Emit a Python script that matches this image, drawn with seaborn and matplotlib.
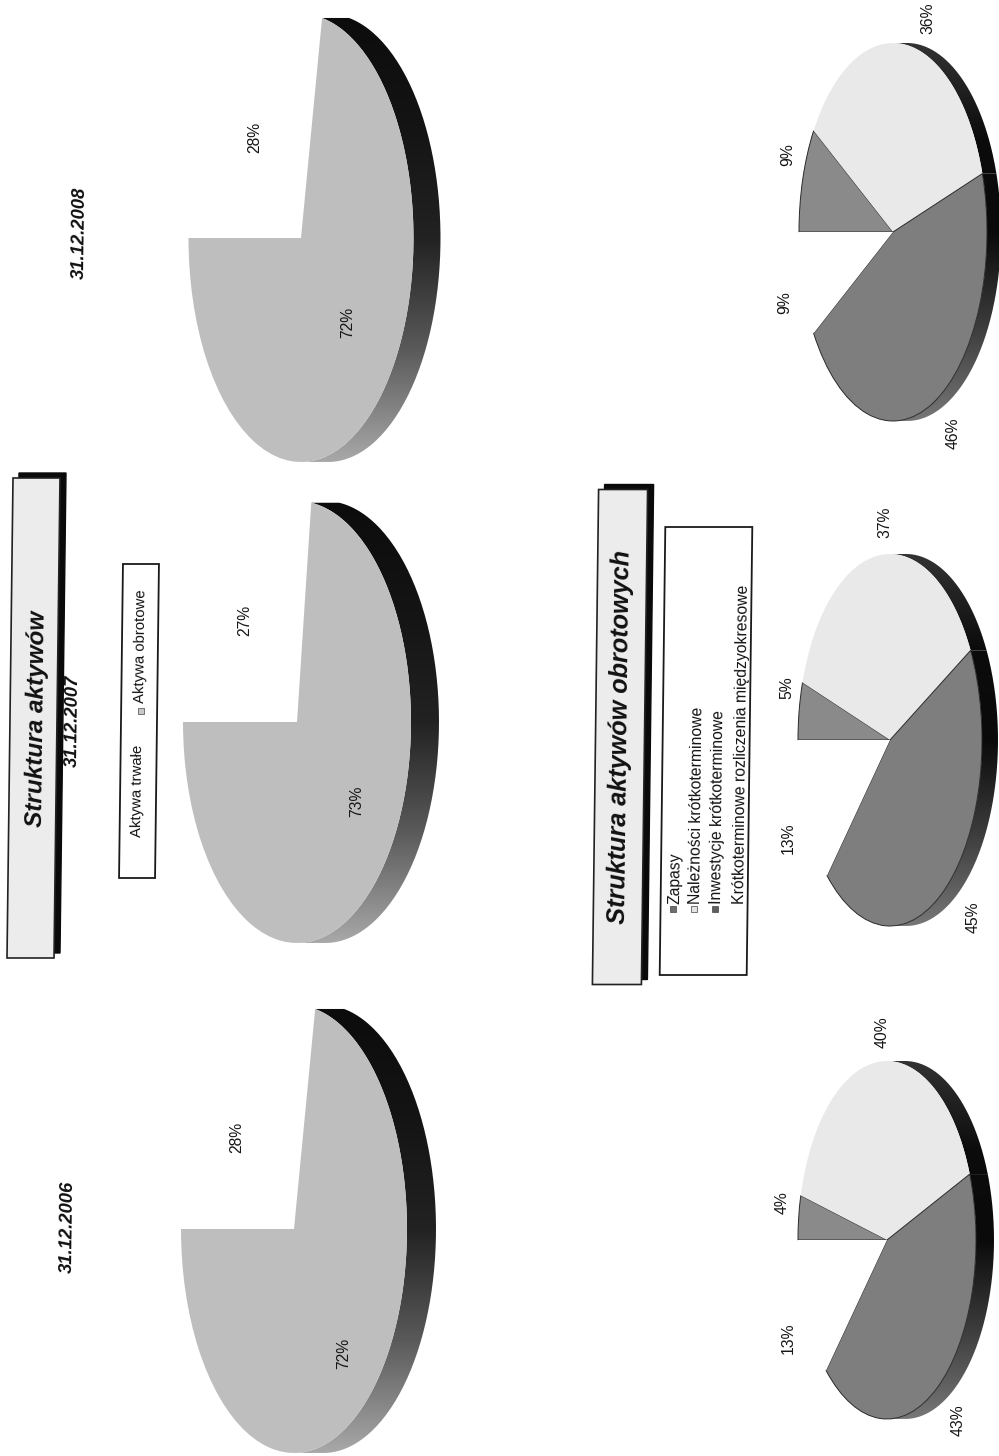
import numpy as np
import matplotlib
matplotlib.use("Agg")
import matplotlib.pyplot as plt
from matplotlib.patches import Polygon, PathPatch
from matplotlib.path import Path
import seaborn as sns

# Share of fixed and current assets at each balance date (percent)
asset_slices = ["Aktywa trwałe", "Aktywa obrotowe"]
assets_2006 = [28, 72]
assets_2007 = [27, 73]
assets_2008 = [28, 72]

# Structure of current assets at each balance date (percent)
current_slices = ["Zapasy", "Należności krótkoterminowe",
                  "Inwestycje krótkoterminowe",
                  "Krótkoterminowe rozliczenia międzyokresowe"]
current_2006 = [4, 40, 43, 13]
current_2007 = [5, 37, 45, 13]
current_2008 = [9, 36, 46, 9]

date_2006 = "31.12.2006"
date_2007 = "31.12.2007"
date_2008 = "31.12.2008"

W, H = 999, 1456
TILT = 0.0125  # page is slightly askew, boxes and headings follow it
FONT = "Liberation Sans"

sns.set_theme(style="white", rc={"font.family": FONT})
asset_colors = sns.color_palette(["#ffffff", "#bebebe"])
current_colors = sns.color_palette(["#8a8a8a", "#e9e9e9", "#7e7e7e", "#ffffff"])
wall_big = sns.blend_palette(["#0c0c0c", "#141414", "#222222", "#5a5a5a", "#a8a8a8"],
                             as_cmap=True)
wall_small = sns.blend_palette(["#333333", "#0c0c0c", "#0a0a0a", "#3c3c3c", "#777777"],
                               as_cmap=True)

fig = plt.figure(figsize=(W / 100, H / 100), dpi=100, facecolor="white")
page = fig.add_axes([0, 0, 1, 1], zorder=5)
page.set_xlim(0, W)
page.set_ylim(H, 0)
page.axis("off")
page.patch.set_alpha(0)


def draw_pie(values, colors, cx, cy, rx, ry, depth, wall_cmap, edged=()):
    """Extruded pie, first slice starting at the left and running clockwise."""
    d = depth / rx
    pad = 0.02
    ax = fig.add_axes([(cx - rx * (1 + pad)) / W,
                       1 - (cy + ry * (1 + pad)) / H,
                       rx * (2 + 2 * pad + d) / W,
                       ry * (2 + 2 * pad) / H])
    wedges, _ = ax.pie(values, colors=colors, startangle=180, counterclock=False,
                       radius=1, wedgeprops={"linewidth": 0})
    ax.set_aspect("auto")
    ramp = np.linspace(1, 0, 256).reshape(-1, 1)
    for i, w in enumerate(wedges):
        if i in edged:
            w.set_edgecolor("#2a2a2a")
            w.set_linewidth(0.7)
        if colors[i] == (1.0, 1.0, 1.0):
            continue
        lo, hi = max(w.theta1, -90), min(w.theta2, 90)
        if hi <= lo:
            continue
        t = np.radians(np.linspace(lo, hi, 120))
        outer = np.column_stack([np.cos(t) + d, np.sin(t)])
        inner = np.column_stack([np.cos(t), np.sin(t)])[::-1]
        verts = np.vstack([inner, outer, inner[:1]])
        clip = PathPatch(Path(verts), transform=ax.transData, fc="none", ec="none")
        ax.add_patch(clip)
        im = ax.imshow(1 - ramp, extent=(-1, 1 + d, -1, 1), aspect="auto",
                       cmap=wall_cmap, vmin=0, vmax=1, zorder=0, origin="upper")
        im.set_clip_path(clip)
    ax.set_xlim(-1 - pad, 1 + d + pad)
    ax.set_ylim(-1 - pad, 1 + pad)
    ax.axis("off")


def tilted_box(cx, cy, w, h, **kw):
    corners = []
    for sx, sy in [(-1, -1), (1, -1), (1, 1), (-1, 1)]:
        y = sy * h / 2
        corners.append((cx + sx * w / 2 - TILT * y, cy + y))
    page.add_patch(Polygon(corners, closed=True, **kw))


def heading(x, y, s, size, **kw):
    page.text(x, y, s, rotation=89.3, rotation_mode="anchor", ha="center", va="center",
              fontsize=size, color="#111111", family=FONT, **kw)


def pct(x, y, v):
    page.text(x, y, f"{v}%", rotation=90, rotation_mode="anchor", ha="center", va="center",
              fontsize=11.3, color="#161616", family=FONT)


# Upper row of the sheet: fixed vs current assets
draw_pie(assets_2008, asset_colors, 301, 238, 112.5, 224, 27, wall_big)
draw_pie(assets_2007, asset_colors, 297, 722, 114, 221, 28, wall_big)
draw_pie(assets_2006, asset_colors, 294, 1229, 113, 224, 29, wall_big)

for (x, y), v in zip([(255, 137), (348, 322)], assets_2008):
    pct(x, y, v)
for (x, y), v in zip([(245, 620), (357, 801)], assets_2007):
    pct(x, y, v)
for (x, y), v in zip([(237, 1137), (344, 1353)], assets_2006):
    pct(x, y, v)

# Lower row of the sheet: current assets breakdown
draw_pie(current_2008, current_colors, 893, 232, 94, 189, 14, wall_small, edged=(0, 2))
draw_pie(current_2007, current_colors, 890, 740, 92, 186, 16, wall_small, edged=(0, 2))
draw_pie(current_2006, current_colors, 887, 1240, 89, 179, 18, wall_small, edged=(0, 2))

for (x, y), v in zip([(788, 155), (928, 18), (953, 433), (785, 303)], current_2008):
    pct(x, y, v)
for (x, y), v in zip([(787, 688), (885, 522), (973, 917), (788, 838)], current_2007):
    pct(x, y, v)
for (x, y), v in zip([(782, 1203), (882, 1032), (958, 1420), (788, 1338)], current_2006):
    pct(x, y, v)

# Date captions
for x, y, s in [(80, 233, date_2008), (73, 721, date_2007), (68, 1227, date_2006)]:
    heading(x, y, s, 13.2, fontweight="bold", fontstyle="italic")

# Heading boxes with drop shadow
tilted_box(39.5, 713, 47, 480, fc="#0a0a0a", ec="#0a0a0a", lw=1)
tilted_box(33.5, 718, 47, 480, fc="#ececec", ec="#222222", lw=1.2)
heading(37, 719, "Struktura aktywów", 17.5, fontweight="bold", fontstyle="italic")

tilted_box(626, 732, 49, 495, fc="#0a0a0a", ec="#0a0a0a", lw=1)
tilted_box(620, 737, 49, 495, fc="#ececec", ec="#222222", lw=1.2)
heading(620, 737, "Struktura aktywów obrotowych", 18.2, fontweight="bold", fontstyle="italic")


def legend_text(x, y, s, size=10.7):
    page.text(x, y, s, rotation=89.3, rotation_mode="anchor", ha="left", va="center",
              fontsize=size, color="#141414", family=FONT)


def swatch(x, y, color):
    page.add_patch(Polygon([(x - 3, y - 3), (x + 3, y - 3), (x + 3, y + 3), (x - 3, y + 3)],
                           closed=True, fc=color, ec="#444444", lw=0.5))


# Legend of the upper row
tilted_box(139, 721, 36, 314, fc="white", ec="#1a1a1a", lw=1.3)
legend_text(137, 837, asset_slices[0])
swatch(141, 711, "#c8c8c8")
legend_text(140, 703, asset_slices[1])

# Legend of the lower row
tilted_box(706, 751, 87, 448, fc="white", ec="#1a1a1a", lw=1.3)
for x, s, marker in zip([675, 696, 717, 740], current_slices,
                        ["#6e6e6e", "#e4e4e4", "#5e5e5e", None]):
    legend_text(x, 904, s, size=11.3)
    if marker:
        swatch(x - 2, 909, marker)

fig.savefig("out.png", dpi=100, facecolor="white")
